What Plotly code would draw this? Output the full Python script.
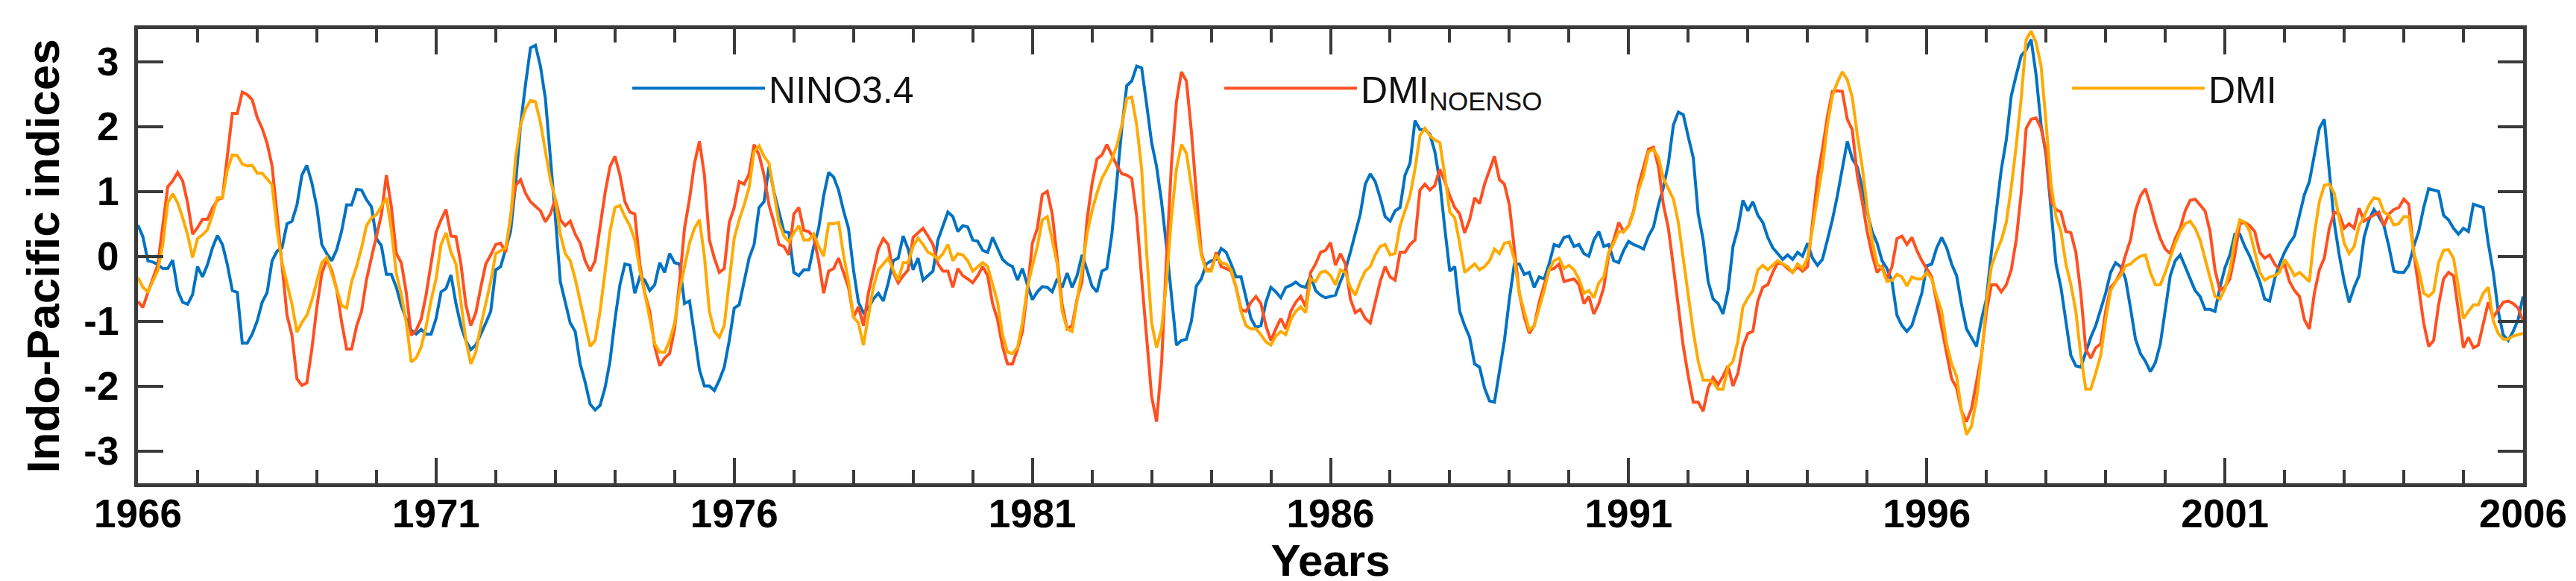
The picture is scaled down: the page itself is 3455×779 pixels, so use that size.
import plotly.graph_objects as go
import numpy as np

# monthly values, Jan 1966 .. Jan 2006 (12 per row = one year)
nino34 = [
    0.48, 0.30, -0.07, -0.09, -0.13, -0.19, -0.19, -0.06, -0.53, -0.71, -0.74, -0.59,
    -0.16, -0.32, -0.13, 0.13, 0.32, 0.18, -0.13, -0.53, -0.56, -1.34, -1.34, -1.20,
    -1.00, -0.71, -0.56, -0.07, 0.08, 0.13, 0.50, 0.54, 0.79, 1.25, 1.40, 1.13,
    0.76, 0.18, 0.04, -0.07, 0.10, 0.39, 0.79, 0.79, 1.03, 1.02, 0.87, 0.76,
    0.27, 0.16, -0.28, -0.28, -0.48, -0.76, -0.97, -1.14, -1.20, -1.13, -1.20, -1.20,
    -0.96, -0.55, -0.50, -0.29, -0.73, -1.07, -1.30, -1.44, -1.37, -1.21, -1.03, -0.85,
    -0.21, -0.16, 0.11, 0.38, 1.11, 2.02, 2.65, 3.21, 3.25, 2.93, 2.43, 1.56,
    0.61, -0.39, -0.71, -1.03, -1.16, -1.66, -1.94, -2.28, -2.37, -2.30, -2.03, -1.62,
    -0.98, -0.44, -0.12, -0.14, -0.57, -0.32, -0.37, -0.53, -0.44, -0.10, -0.25, 0.04,
    -0.10, -0.12, -0.73, -0.69, -1.21, -1.75, -2.00, -2.00, -2.07, -1.91, -1.71, -1.30,
    -0.80, -0.75, -0.39, -0.03, 0.18, 0.75, 0.84, 1.38, 0.99, 0.70, 0.38, 0.36,
    -0.25, -0.30, -0.21, -0.21, 0.15, 0.43, 0.93, 1.29, 1.22, 1.02, 0.70, 0.43,
    -0.21, -0.71, -0.87, -0.80, -0.66, -0.57, -0.69, -0.41, -0.07, -0.03, 0.31, 0.11,
    -0.21, -0.03, -0.37, -0.30, -0.23, 0.25, 0.47, 0.68, 0.61, 0.38, 0.47, 0.45,
    0.25, 0.23, 0.09, 0.06, 0.29, 0.13, -0.05, -0.12, -0.16, -0.37, -0.19, -0.44,
    -0.67, -0.55, -0.47, -0.48, -0.55, -0.35, -0.48, -0.26, -0.48, -0.30, 0.02, -0.21,
    -0.46, -0.55, -0.23, -0.19, 0.34, 1.15, 1.97, 2.63, 2.70, 2.93, 2.90, 2.34,
    1.75, 1.38, 0.84, 0.15, -0.62, -1.37, -1.30, -1.28, -1.00, -0.46, -0.35, -0.12,
    -0.07, -0.05, 0.12, 0.06, -0.12, -0.32, -0.32, -0.66, -0.96, -1.10, -1.07, -0.71,
    -0.48, -0.55, -0.64, -0.48, -0.45, -0.40, -0.46, -0.48, -0.30, -0.53, -0.60, -0.64,
    -0.62, -0.60, -0.39, -0.21, 0.06, 0.34, 0.65, 1.11, 1.27, 1.15, 0.90, 0.61,
    0.54, 0.70, 0.75, 1.25, 1.43, 2.09, 1.95, 1.95, 1.88, 1.61, 1.15, 0.43,
    -0.23, -0.16, -0.85, -1.07, -1.25, -1.66, -1.71, -2.03, -2.23, -2.25, -1.80, -1.30,
    -0.66, -0.12, -0.12, -0.28, -0.25, -0.48, -0.32, -0.35, -0.12, 0.18, 0.15, 0.29,
    0.31, 0.15, 0.18, 0.04, 0.00, 0.25, 0.38, 0.15, 0.18, -0.07, -0.10, 0.09,
    0.23, 0.18, 0.15, 0.11, 0.31, 0.45, 0.79, 1.06, 1.43, 2.02, 2.22, 2.18,
    1.84, 1.52, 0.65, 0.25, -0.39, -0.66, -0.73, -0.89, -0.53, 0.15, 0.43, 0.86,
    0.70, 0.84, 0.63, 0.52, 0.29, 0.13, 0.04, -0.05, 0.02, -0.05, 0.06, 0.00,
    0.20, -0.03, -0.14, -0.05, 0.25, 0.56, 0.93, 1.34, 1.77, 1.50, 1.38, 1.06,
    0.68, 0.38, 0.20, -0.07, -0.19, -0.39, -0.91, -1.07, -1.16, -1.07, -0.80, -0.57,
    -0.15, -0.12, 0.13, 0.29, 0.13, -0.12, -0.30, -0.75, -1.12, -1.25, -1.39, -0.98,
    -0.66, 0.06, 0.70, 1.34, 1.79, 2.47, 2.79, 3.09, 3.18, 3.34, 2.79, 2.02,
    1.56, 0.70, -0.12, -0.48, -1.03, -1.53, -1.69, -1.71, -1.48, -1.25, -1.07, -0.80,
    -0.57, -0.25, -0.10, -0.16, -0.35, -0.80, -1.28, -1.50, -1.62, -1.78, -1.64, -1.35,
    -0.85, -0.30, -0.07, 0.02, -0.16, -0.35, -0.53, -0.62, -0.82, -0.82, -0.85, -0.48,
    -0.18, 0.02, 0.34, 0.34, 0.15, 0.00, -0.21, -0.39, -0.66, -0.69, -0.35, -0.12,
    0.06, 0.20, 0.31, 0.61, 0.95, 1.15, 1.56, 1.97, 2.11, 1.34, 0.52, 0.02,
    -0.39, -0.71, -0.48, -0.30, 0.29, 0.56, 0.72, 0.61, 0.47, 0.15, -0.23, -0.25,
    -0.25, -0.14, 0.15, 0.38, 0.75, 1.04, 1.02, 1.00, 0.63, 0.56, 0.43, 0.34,
    0.43, 0.38, 0.80, 0.77, 0.75, 0.20, -0.25, -0.85, -1.21, -1.30, -1.16, -0.98,
    -0.62,
]

dmi_noenso = [
    -0.70, -0.79, -0.56, -0.33, -0.13, 0.47, 1.07, 1.16, 1.29, 1.16, 0.82, 0.34,
    0.44, 0.57, 0.57, 0.74, 0.87, 0.90, 1.56, 2.20, 2.20, 2.53, 2.49, 2.41,
    2.14, 1.97, 1.74, 1.39, 0.64, -0.16, -0.91, -1.22, -1.89, -1.99, -1.95, -1.43,
    -0.79, -0.27, -0.05, -0.22, -0.51, -1.02, -1.43, -1.43, -1.08, -0.85, -0.36, -0.02,
    0.33, 0.64, 1.25, 0.76, 0.04, -0.10, -0.56, -1.22, -1.14, -0.97, -0.59, -0.13,
    0.37, 0.56, 0.72, 0.31, 0.30, -0.12, -0.75, -1.07, -0.87, -0.48, -0.12, 0.02,
    0.18, 0.20, 0.06, 0.61, 1.09, 1.18, 0.97, 0.84, 0.77, 0.70, 0.53, 0.65,
    0.88, 0.56, 0.47, 0.54, 0.34, 0.20, -0.07, -0.23, -0.07, 0.43, 0.97, 1.38,
    1.54, 1.25, 0.84, 0.68, 0.65, -0.12, -0.57, -0.85, -1.39, -1.69, -1.57, -1.50,
    -1.12, -0.39, 0.43, 0.88, 1.43, 1.77, 1.25, 0.25, -0.03, -0.25, -0.19, 0.52,
    0.75, 1.15, 1.11, 1.27, 1.72, 1.56, 1.25, 0.79, 0.52, 0.18, 0.15, 0.02,
    0.65, 0.75, 0.40, 0.38, 0.29, -0.07, -0.57, -0.23, -0.19, -0.03, -0.25, -0.48,
    -0.94, -0.78, -1.07, -0.57, -0.23, 0.11, 0.27, 0.18, -0.25, -0.41, -0.30, -0.21,
    0.29, 0.36, 0.43, 0.31, 0.18, -0.12, -0.23, -0.23, -0.48, -0.19, -0.30, -0.35,
    -0.41, -0.30, -0.16, -0.30, -0.73, -0.98, -1.39, -1.66, -1.66, -1.44, -1.16, -0.53,
    0.20, 0.43, 0.95, 1.00, 0.65, -0.03, -0.75, -1.12, -1.07, -0.66, -0.39, 0.56,
    1.11, 1.50, 1.56, 1.72, 1.56, 1.40, 1.27, 1.25, 1.20, 0.61, -0.35, -1.25,
    -2.16, -2.55, -1.66, -0.03, 1.43, 2.38, 2.84, 2.70, 1.93, 0.97, 0.06, -0.21,
    -0.21, 0.06, -0.16, -0.19, -0.23, -0.48, -0.82, -0.85, -0.71, -0.62, -0.73, -1.07,
    -1.30, -1.12, -0.96, -1.12, -0.85, -0.71, -0.62, -0.78, -0.25, -0.12, 0.06, 0.09,
    0.21, -0.14, 0.04, -0.12, -0.66, -0.87, -0.82, -0.96, -1.03, -0.71, -0.39, -0.16,
    -0.32, -0.37, 0.06, 0.06, 0.18, 0.25, 1.02, 1.11, 1.02, 1.09, 1.34, 1.15,
    0.93, 0.75, 0.65, 0.36, 0.56, 0.90, 0.81, 1.11, 1.34, 1.54, 1.18, 1.11,
    0.79, 0.06, -0.57, -0.94, -1.19, -1.07, -0.71, -0.44, -0.21, -0.19, -0.12, -0.39,
    -0.37, -0.35, -0.44, -0.73, -0.62, -0.89, -0.73, -0.48, 0.02, 0.25, 0.52, 0.38,
    0.47, 0.70, 1.09, 1.38, 1.65, 1.68, 1.38, 0.79, 0.43, -0.16, -0.80, -1.39,
    -1.85, -2.25, -2.25, -2.39, -2.03, -1.87, -1.98, -1.85, -1.69, -2.00, -1.80, -1.39,
    -1.19, -1.16, -0.69, -0.48, -0.44, -0.25, -0.10, -0.12, -0.19, -0.25, -0.16, -0.23,
    -0.16, 0.56, 1.20, 1.65, 2.15, 2.54, 2.55, 2.54, 2.11, 1.95, 1.25, 0.84,
    0.38, 0.02, -0.25, -0.16, -0.35, -0.16, 0.27, 0.31, 0.18, 0.29, 0.09, -0.07,
    -0.20, -0.32, -0.71, -1.12, -1.53, -1.89, -2.03, -2.39, -2.55, -2.35, -1.94, -1.53,
    -0.85, -0.44, -0.44, -0.55, -0.44, -0.21, 0.25, 0.97, 1.97, 2.11, 2.13, 1.97,
    1.61, 0.84, 0.72, 0.68, 0.38, 0.36, 0.06, -0.57, -1.44, -1.57, -1.41, -1.35,
    -0.85, -0.48, -0.39, -0.25, 0.02, 0.25, 0.70, 0.93, 1.04, 0.79, 0.50, 0.27,
    0.11, 0.04, 0.27, 0.43, 0.70, 0.86, 0.88, 0.79, 0.70, 0.38, -0.21, -0.53,
    -0.47, -0.35, 0.02, 0.50, 0.52, 0.47, 0.38, 0.06, -0.03, 0.02, -0.12, -0.21,
    -0.12, -0.39, -0.53, -0.62, -0.98, -1.12, -0.57, -0.21, -0.03, 0.43, 0.68, 0.65,
    0.43, 0.50, 0.43, 0.74, 0.54, 0.59, 0.63, 0.68, 0.47, 0.65, 0.72, 0.75,
    0.88, 0.80, 0.06, -0.48, -1.03, -1.39, -1.30, -0.75, -0.35, -0.25, -0.30, -0.85,
    -1.41, -1.25, -1.41, -1.37, -1.03, -0.71, -0.94, -0.82, -0.71, -0.69, -0.73, -0.80,
    -1.00,
]

dmi = [
    -0.33, -0.48, -0.55, -0.39, -0.22, 0.18, 0.82, 0.96, 0.82, 0.59, 0.33, -0.02,
    0.27, 0.33, 0.41, 0.64, 0.90, 0.90, 1.33, 1.56, 1.55, 1.42, 1.39, 1.40,
    1.28, 1.28, 1.19, 1.10, 0.41, -0.10, -0.42, -0.74, -1.17, -1.02, -0.91, -0.68,
    -0.39, -0.10, -0.02, -0.27, -0.51, -0.76, -0.80, -0.39, -0.16, 0.13, 0.47, 0.59,
    0.64, 0.76, 0.90, 0.41, -0.27, -0.59, -1.02, -1.63, -1.57, -1.40, -1.08, -0.68,
    -0.35, 0.18, 0.36, 0.06, -0.12, -0.71, -1.30, -1.66, -1.48, -1.07, -0.71, -0.39,
    0.04, 0.09, 0.13, 0.56, 1.52, 2.02, 2.27, 2.40, 2.38, 2.06, 1.61, 1.18,
    0.88, 0.34, 0.04, -0.07, -0.35, -0.71, -1.07, -1.39, -1.30, -0.85, -0.25, 0.38,
    0.75, 0.78, 0.61, 0.47, 0.25, -0.21, -0.57, -0.98, -1.35, -1.48, -1.48, -1.30,
    -1.03, -0.53, -0.16, 0.20, 0.43, 0.56, 0.00, -0.85, -1.16, -1.25, -1.07, -0.35,
    0.28, 0.56, 0.79, 1.06, 1.61, 1.70, 1.54, 1.43, 0.97, 0.52, 0.31, 0.22,
    0.36, 0.47, 0.25, 0.25, 0.34, 0.15, 0.00, 0.50, 0.50, 0.52, 0.02, -0.39,
    -0.94, -1.03, -1.37, -0.89, -0.48, -0.21, -0.12, -0.03, -0.21, -0.37, -0.10, -0.10,
    0.15, 0.28, 0.18, 0.06, 0.02, -0.05, 0.04, 0.18, -0.07, 0.04, 0.02, -0.07,
    -0.23, -0.16, -0.10, -0.16, -0.44, -0.71, -1.21, -1.48, -1.50, -1.41, -1.03, -0.48,
    -0.15, 0.15, 0.56, 0.61, 0.25, -0.12, -0.85, -1.12, -1.16, -0.71, -0.21, 0.34,
    0.70, 0.97, 1.20, 1.34, 1.50, 1.70, 2.02, 2.43, 2.45, 2.02, 1.34, 0.06,
    -1.03, -1.41, -1.12, -0.39, 0.61, 1.34, 1.72, 1.59, 1.11, 0.56, 0.02, -0.23,
    -0.23, 0.02, -0.10, -0.12, -0.21, -0.48, -0.85, -1.07, -1.12, -1.12, -1.21, -1.32,
    -1.37, -1.23, -1.16, -1.21, -0.98, -0.85, -0.78, -0.87, -0.35, -0.39, -0.25, -0.23,
    -0.30, -0.44, -0.21, -0.25, -0.48, -0.60, -0.39, -0.23, -0.16, 0.02, 0.15, 0.18,
    0.02, 0.04, 0.47, 0.70, 0.93, 1.34, 1.86, 1.97, 1.86, 1.79, 1.75, 1.25,
    0.68, 0.59, 0.20, -0.25, -0.19, -0.12, -0.21, -0.16, -0.07, 0.11, 0.04, 0.20,
    0.22, -0.05, -0.57, -0.85, -1.14, -1.07, -0.80, -0.53, -0.21, -0.07, -0.03, -0.19,
    -0.14, -0.21, -0.35, -0.57, -0.53, -0.64, -0.41, -0.32, 0.06, 0.20, 0.38, 0.38,
    0.46, 0.68, 1.02, 1.25, 1.61, 1.65, 1.52, 1.20, 1.04, 0.88, 0.52, -0.03,
    -0.66, -1.16, -1.62, -1.91, -1.91, -1.94, -2.05, -2.05, -1.71, -1.62, -1.30, -0.78,
    -0.64, -0.53, -0.21, -0.14, -0.21, -0.14, -0.07, -0.12, -0.16, -0.25, -0.12, -0.19,
    -0.03, 0.43, 0.93, 1.38, 2.02, 2.47, 2.68, 2.84, 2.72, 2.45, 1.88, 1.38,
    0.75, 0.25, -0.12, -0.19, -0.39, -0.37, -0.28, -0.32, -0.46, -0.32, -0.35, -0.35,
    -0.25, -0.35, -0.62, -0.85, -1.35, -1.66, -1.85, -2.39, -2.75, -2.62, -2.21, -1.57,
    -0.71, -0.16, 0.06, 0.25, 0.52, 1.06, 1.70, 2.43, 3.34, 3.47, 3.29, 2.93,
    2.06, 1.11, 0.61, 0.38, -0.12, -0.44, -0.85, -1.53, -2.05, -2.05, -1.80, -1.53,
    -0.98, -0.53, -0.39, -0.30, -0.15, -0.12, -0.05, 0.00, 0.02, -0.25, -0.44, -0.44,
    -0.25, -0.03, 0.20, 0.38, 0.50, 0.54, 0.43, 0.25, -0.03, -0.30, -0.62, -0.66,
    -0.50, -0.21, 0.25, 0.56, 0.52, 0.38, 0.06, -0.25, -0.37, -0.32, -0.30, -0.25,
    -0.05, -0.16, -0.30, -0.25, -0.32, -0.39, 0.34, 0.84, 1.09, 1.11, 0.97, 0.61,
    0.20, 0.04, 0.15, 0.47, 0.61, 0.79, 0.90, 0.88, 0.68, 0.63, 0.48, 0.50,
    0.61, 0.61, 0.06, -0.21, -0.57, -0.62, -0.55, -0.10, 0.09, 0.10, -0.03, -0.48,
    -0.96, -0.85, -0.75, -0.75, -0.57, -0.48, -1.00, -1.19, -1.28, -1.28, -1.23, -1.21,
    -1.19,
]

years = 1966 + np.arange(len(nino34)) / 12
year_ticks = [1966, 1971, 1976, 1981, 1986, 1991, 1996, 2001, 2006]
y_ticks = [-3, -2, -1, 0, 1, 2, 3]

axis_col = "#3a3a3a"
font_fam = "Liberation Sans, Arial, sans-serif"

fig = go.Figure()
fig.add_trace(go.Scatter(x=years, y=nino34, mode="lines", name="NINO3.4",
                         line=dict(color="#0072C3", width=4), legend="legend"))
fig.add_trace(go.Scatter(x=years, y=dmi_noenso, mode="lines", name="DMI<sub>NOENSO</sub>",
                         line=dict(color="#FF5020", width=4), legend="legend2"))
fig.add_trace(go.Scatter(x=years, y=dmi, mode="lines", name="DMI",
                         line=dict(color="#FFAA00", width=4), legend="legend3"))

leg = dict(y=0.87, xanchor="left", yanchor="middle", orientation="h",
           itemwidth=178, bgcolor="rgba(0,0,0,0)", borderwidth=0,
           font=dict(family=font_fam, size=50, color="#111111"))

fig.update_layout(
    width=3455, height=779,
    margin=dict(l=177, r=79, t=31, b=139),
    plot_bgcolor="white", paper_bgcolor="white",
    font=dict(family=font_fam, color="black"),
    showlegend=True,
    legend=dict(leg, x=0.2057),
    legend2=dict(leg, x=0.4539),
    legend3=dict(leg, x=0.8093),
    xaxis=dict(
        range=[1966, 2006], tickmode="array", tickvals=year_ticks,
        ticks="inside", ticklen=34, tickwidth=4, tickcolor=axis_col,
        showline=True, linewidth=5, linecolor=axis_col, mirror="ticks",
        showgrid=False, zeroline=False, ticklabelstandoff=-10,
        tickfont=dict(size=53, color="black", weight="bold"),
        minor=dict(tick0=1966, dtick=1, ticks="inside", ticklen=18,
                   tickwidth=4, tickcolor=axis_col, showgrid=False),
        title=dict(text="Years", font=dict(size=60, weight="bold"), standoff=2),
    ),
    yaxis=dict(
        range=[-3.5, 3.5], tickmode="array", tickvals=y_ticks,
        ticktext=[str(v) for v in y_ticks],
        ticks="inside", ticklen=34, tickwidth=4, tickcolor=axis_col,
        showline=True, linewidth=5, linecolor=axis_col, mirror="ticks",
        showgrid=False, zeroline=False, ticklabelstandoff=10,
        tickfont=dict(size=53, color="black", weight="bold"),
        title=dict(text="Indo-Pacific indices", font=dict(size=62, weight="bold"), standoff=14),
    ),
)

fig.write_html("out.html")
